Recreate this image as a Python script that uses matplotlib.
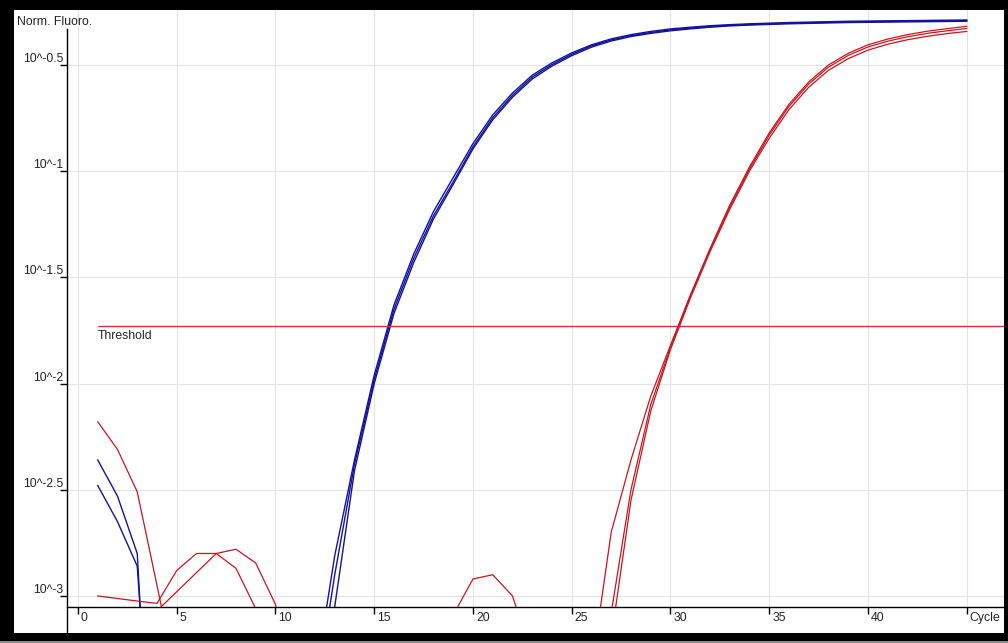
import numpy as np
import matplotlib
matplotlib.use("Agg")
import matplotlib.pyplot as plt
import matplotlib.transforms as mtransforms
from matplotlib.patches import Rectangle
from matplotlib.ticker import NullLocator

plt.rcParams['font.family'] = ['Liberation Sans', 'DejaVu Sans']
FS = 8.8

# Amplification cycles
cycles = np.arange(1, 46)

# log10 of normalised fluorescence per cycle (values below -3.05 sit under the axis)
blue_1 = [-2.36, -2.53, -2.80, -4.5, -4.5, -4.5, -4.5, -4.5, -4.5, -4.5,
          -4.5, -3.40, -2.81, -2.36, -1.96, -1.63, -1.39, -1.19, -1.03, -0.87,
          -0.735, -0.632, -0.548, -0.490, -0.443, -0.405, -0.377, -0.357, -0.342, -0.330,
          -0.322, -0.315, -0.310, -0.306, -0.303, -0.300, -0.298, -0.296, -0.294, -0.293,
          -0.292, -0.291, -0.290, -0.289, -0.288]
blue_2 = [-2.48, -2.65, -2.86, -4.2, -4.2, -4.2, -4.2, -4.2, -4.2, -4.2,
          -4.2, -3.50, -2.90, -2.38, -1.98, -1.65, -1.41, -1.21, -1.05, -0.885,
          -0.748, -0.643, -0.557, -0.498, -0.450, -0.410, -0.382, -0.362, -0.347, -0.335,
          -0.326, -0.319, -0.313, -0.309, -0.306, -0.303, -0.301, -0.299, -0.297, -0.296,
          -0.295, -0.294, -0.293, -0.292, -0.291]
blue_3 = [-4.0, -4.0, -4.0, -4.0, -4.0, -4.0, -4.0, -4.0, -4.0, -4.0,
          -4.0, -3.65, -3.05, -2.41, -2.00, -1.67, -1.43, -1.225, -1.062, -0.895,
          -0.758, -0.652, -0.566, -0.505, -0.456, -0.416, -0.387, -0.366, -0.351, -0.339,
          -0.330, -0.322, -0.316, -0.312, -0.309, -0.306, -0.304, -0.302, -0.300, -0.299,
          -0.298, -0.297, -0.296, -0.295, -0.294]
red_1 = [-2.18, -2.31, -2.51, -2.95, -3.40, -3.6, -3.6, -3.6, -3.6, -3.6,
         -3.6, -3.6, -3.6, -3.6, -3.6, -3.6, -3.6, -3.6, -3.6, -3.6,
         -3.6, -3.6, -3.6, -3.6, -3.6, -3.35, -2.70, -2.36, -2.06, -1.82,
         -1.585, -1.365, -1.16, -0.98, -0.82, -0.685, -0.58, -0.50, -0.445, -0.405,
         -0.378, -0.357, -0.341, -0.329, -0.318]
red_2 = [-3.00, -3.012, -3.024, -3.035, -2.88, -2.80, -2.80, -2.87, -3.06, -3.5,
         -3.6, -3.6, -3.6, -3.6, -3.6, -3.6, -3.6, -3.6, -3.6, -3.6,
         -3.6, -3.6, -3.6, -3.6, -3.6, -3.6, -3.08, -2.50, -2.10, -1.83,
         -1.59, -1.37, -1.17, -0.99, -0.83, -0.695, -0.59, -0.51, -0.455, -0.415,
         -0.388, -0.367, -0.351, -0.339, -0.328]
red_3 = [-3.6, -3.6, -3.6, -3.07, -2.98, -2.89, -2.80, -2.78, -2.845, -3.04,
         -3.5, -3.6, -3.6, -3.6, -3.6, -3.6, -3.6, -3.5, -3.09, -2.92,
         -2.90, -3.00, -3.28, -3.6, -3.6, -3.6, -3.20, -2.55, -2.13, -1.84,
         -1.60, -1.38, -1.18, -1.00, -0.845, -0.71, -0.605, -0.525, -0.47, -0.43,
         -0.402, -0.381, -0.365, -0.352, -0.342]

threshold_log10 = -1.73
ytick_exponents = [-3, -2.5, -2, -1.5, -1, -0.5]
ytick_labels = ["10^-3", "10^-2.5", "10^-2", "10^-1.5", "10^-1", "10^-0.5"]
xtick_values = [0, 5, 10, 15, 20, 25, 30, 35, 40, 45]
xtick_labels = ["0", "5", "10", "15", "20", "25", "30", "35", "40", "Cycle"]

W, H = 1008, 643
fig = plt.figure(figsize=(W / 100, H / 100), dpi=100, facecolor="black")

# white panel inside the black frame
fig.patches.append(Rectangle((14 / W, 10 / H), 990 / W, 623 / H,
                             transform=fig.transFigure, facecolor="white",
                             edgecolor="none", zorder=-10))
fig.patches.append(Rectangle((0, 0), 1, 2.5 / H, transform=fig.transFigure,
                             facecolor="#8a8a8a", edgecolor="none", zorder=-10))

ax = fig.add_axes([67 / W, 36 / H, 937 / W, 597 / H])
ax.set_facecolor("white")
ax.set_yscale("log")
ax.set_xlim(-0.557, 46.89)
ax.set_ylim(10 ** -3.052, 10 ** -0.241)

for s in ("top", "right", "left"):
    ax.spines[s].set_visible(False)
ax.spines["bottom"].set_linewidth(1.0)
ax.spines["bottom"].set_color("black")

# left axis line runs past the x axis down to the frame
ax.plot([0, 0], [-0.0436, 0.968], transform=ax.transAxes, color="black",
        lw=1.0, clip_on=False, zorder=5)

yt = [10 ** e for e in ytick_exponents]
ax.set_yticks(yt)
ax.set_yticklabels([])
ax.yaxis.set_minor_locator(NullLocator())
ax.set_xticks(xtick_values)
ax.set_xticklabels([])
ax.tick_params(axis="both", direction="out", length=5.0, width=1.0, color="black")

ax.grid(True, color="#e3e3e3", lw=0.8, zorder=0)
ax.set_axisbelow(True)

ylab_tr = mtransforms.offset_copy(ax.get_yaxis_transform(), fig=fig, x=-4, y=3, units="dots")
for v, s in zip(yt, ytick_labels):
    ax.text(0, v, s, transform=ylab_tr, ha="right", va="baseline", fontsize=FS,
            color="#222222", clip_on=False)

xlab_tr = mtransforms.offset_copy(ax.get_xaxis_transform(), fig=fig, x=3, y=-14, units="dots")
for v, s in zip(xtick_values, xtick_labels):
    ax.text(v, 0, s, transform=xlab_tr, ha="left", va="baseline", fontsize=FS,
            color="#222222", clip_on=False)

fig.text(17 / W, 1 - 25 / H, "Norm. Fluoro.", ha="left", va="baseline",
         fontsize=FS, color="#222222")

blue = "#12129c"
red = "#c8161e"
for series in (blue_1, blue_2, blue_3):
    ax.plot(cycles, 10 ** np.array(series), color=blue, lw=1.0, zorder=3)
for series in (red_1, red_2, red_3):
    ax.plot(cycles, 10 ** np.array(series), color=red, lw=0.9, zorder=3)

thr = 10 ** threshold_log10
ax.hlines(thr, cycles[0], 50, color="#d0303c", lw=1.0, zorder=4)
thr_tr = mtransforms.offset_copy(ax.transData, fig=fig, x=0, y=-12.5, units="dots")
ax.text(cycles[0], thr, "Threshold", transform=thr_tr, ha="left", va="baseline",
        fontsize=FS, color="#222222")

fig.savefig("out.png", dpi=100, facecolor=fig.get_facecolor())
